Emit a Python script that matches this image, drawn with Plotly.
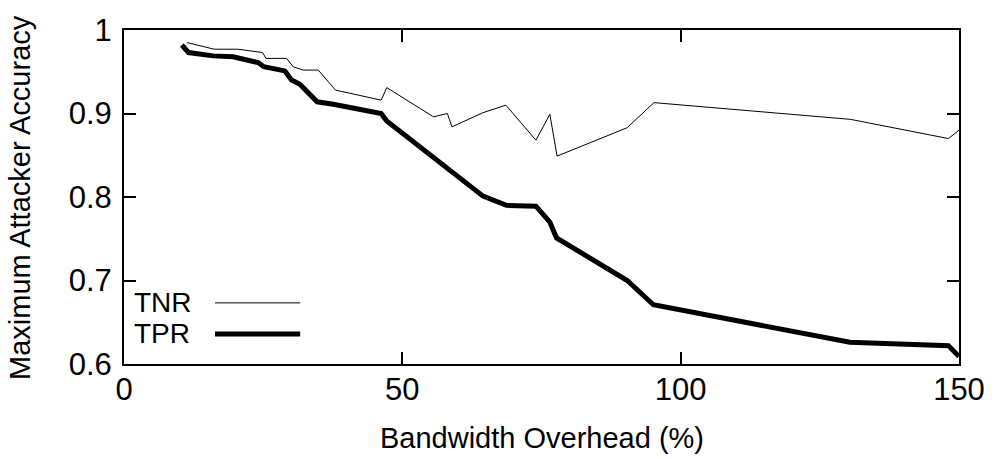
import plotly.graph_objects as go

# Bandwidth overhead (%) and attacker accuracies
tnr_x = [11.3, 16.2, 20.5, 24.9, 25.5, 29.2, 30.4, 32.2, 34.9, 38.0, 46.2, 47.2, 55.6, 58.1, 58.9,
         64.5, 68.6, 74.0, 76.5, 77.8, 90.4, 95.2, 130.5, 148.1, 150.0]
tnr_y = [0.985, 0.977, 0.977, 0.973, 0.966, 0.966, 0.956, 0.952, 0.952, 0.928, 0.916, 0.931, 0.896, 0.900, 0.884,
         0.901, 0.910, 0.868, 0.899, 0.849, 0.883, 0.913, 0.893, 0.870, 0.880]

tpr_x = [10.4, 11.0, 11.6, 16.0, 19.6, 24.1, 25.1, 28.9, 30.1, 31.6, 34.7, 37.6, 46.2, 47.2, 58.3,
         64.5, 68.7, 74.0, 76.5, 77.7, 90.4, 95.1, 130.4, 148.1, 150.0]
tpr_y = [0.982, 0.977, 0.973, 0.969, 0.968, 0.961, 0.956, 0.951, 0.940, 0.935, 0.914, 0.911, 0.900, 0.891, 0.833,
         0.801, 0.790, 0.789, 0.770, 0.751, 0.700, 0.671, 0.626, 0.622, 0.609]

x_ticks = [0, 50, 100, 150]
y_ticks = [0.6, 0.7, 0.8, 0.9, 1.0]
y_tick_text = ["0.6", "0.7", "0.8", "0.9", "1"]

FONT = "Liberation Sans, Arial, Helvetica, sans-serif"

fig = go.Figure()
fig.add_trace(go.Scatter(x=tnr_x, y=tnr_y, mode="lines", name="TNR",
                         line=dict(color="black", width=1), showlegend=False))
fig.add_trace(go.Scatter(x=tpr_x, y=tpr_y, mode="lines", name="TPR",
                         line=dict(color="black", width=5), showlegend=False))

# gnuplot-style legend (text then line sample), bottom-left inside the plot
legend_rows = [("TNR", 1, 0.183), ("TPR", 5, 0.090)]
for label, w, yp in legend_rows:
    fig.add_annotation(x=0.01, y=yp, xref="paper", yref="paper", text=label,
                       showarrow=False, xanchor="left", yanchor="middle",
                       font=dict(family=FONT, size=28, color="black"))
    fig.add_shape(type="line", xref="paper", yref="paper",
                  x0=0.109, x1=0.211, y0=yp, y1=yp,
                  line=dict(color="black", width=w))

# axis titles
fig.add_annotation(x=0.5, y=-0.222, xref="paper", yref="paper", text="Bandwidth Overhead (%)",
                   showarrow=False, xanchor="center", yanchor="middle",
                   font=dict(family=FONT, size=29, color="black"))
fig.add_annotation(x=-0.1246, y=0.5, xref="paper", yref="paper", text="Maximum Attacker Accuracy",
                   showarrow=False, xanchor="center", yanchor="middle", textangle=-90,
                   font=dict(family=FONT, size=29, color="black"))

fig.update_layout(
    width=995, height=459,
    margin=dict(l=124, r=36, t=30, b=95),
    paper_bgcolor="white", plot_bgcolor="white",
    font=dict(family=FONT, size=29, color="black"),
)
fig.update_xaxes(
    range=[0, 150], tickvals=x_ticks, ticks="inside", ticklen=12, tickwidth=1.5,
    tickcolor="black", showline=True, linecolor="black", linewidth=2, mirror="ticks",
    showgrid=False, zeroline=False, ticklabelstandoff=-3,
    tickfont=dict(family=FONT, size=31, color="black"),
    automargin=False,
)
fig.update_yaxes(
    range=[0.6, 1.0], tickvals=y_ticks, ticktext=y_tick_text, ticks="inside", ticklen=12, tickwidth=1.5,
    tickcolor="black", showline=True, linecolor="black", linewidth=2, mirror="ticks",
    showgrid=False, zeroline=False, ticklabelstandoff=4,
    tickfont=dict(family=FONT, size=31, color="black"),
    automargin=False,
)

fig.write_html("out.html")
